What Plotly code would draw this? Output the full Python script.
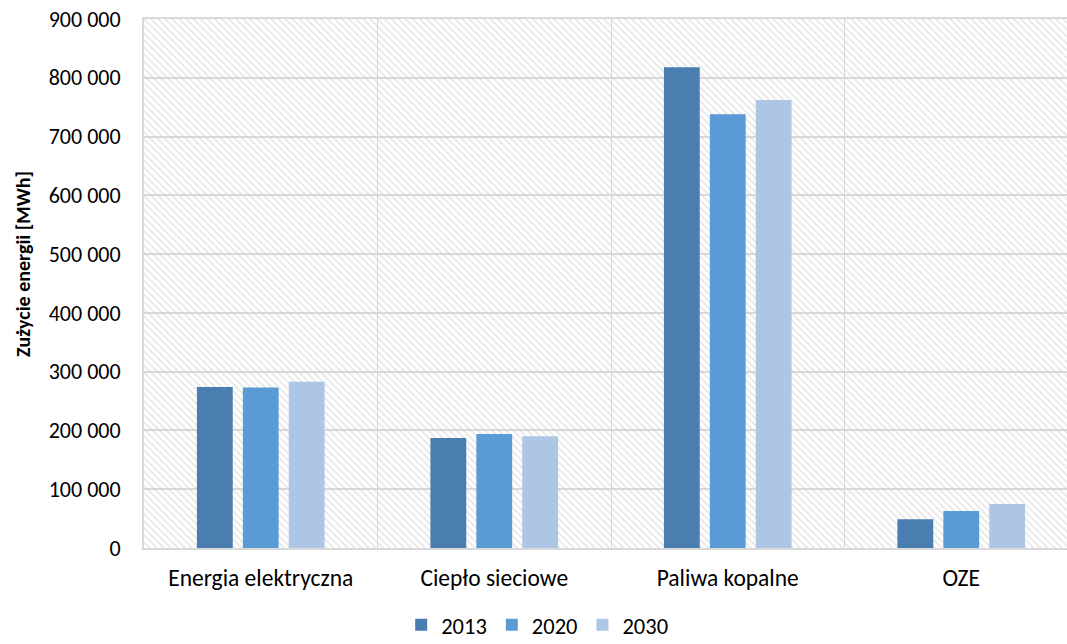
import plotly.graph_objects as go

# chart data
categories = ["Energia elektryczna", "Ciepło sieciowe", "Paliwa kopalne", "OZE"]
years = ["2013", "2020", "2030"]
values_2013 = [274000, 187000, 818000, 49000]
values_2020 = [273000, 194000, 738000, 63000]
values_2030 = [283000, 190000, 762000, 75000]
y_ticks = [0, 100000, 200000, 300000, 400000, 500000, 600000, 700000, 800000, 900000]

colors = ["#4A7EB0", "#5B9BD5", "#ADC6E5"]
font_family = "Calibri, Carlito, Lato, sans-serif"
grid_col = "#D9D9D9"

# plot area is cut off at the right edge in the original
x_visible = (1067 - 144) / 233.5

fig = go.Figure()

# hatched background of the plot area
fig.add_trace(go.Bar(
    x=[len(categories) / 2], y=[y_ticks[-1]], width=[len(categories)],
    xaxis="x", yaxis="y",
    marker=dict(color="rgba(0,0,0,0)", line=dict(width=0),
                pattern=dict(shape="\\", fgcolor="#D2D2D2", size=5, solidity=0.4,
                             fillmode="overlay")),
    showlegend=False, hoverinfo="skip",
))

for year, vals, col in zip(years, [values_2013, values_2020, values_2030], colors):
    fig.add_trace(go.Bar(
        x=categories, y=vals, name=year, xaxis="x2", yaxis="y2",
        marker=dict(color=col, line=dict(width=0)),
    ))

fig.update_layout(
    width=1067, height=644,
    margin=dict(l=144, r=0, t=19, b=96, autoexpand=False),
    paper_bgcolor="white", plot_bgcolor="white",
    separators=", ",
    font=dict(family=font_family, size=22, color="#000000"),
    barmode="group", bargap=0.41, bargroupgap=0.22,
    xaxis=dict(range=[0, x_visible], tick0=0, dtick=1, showgrid=True, gridcolor=grid_col,
               gridwidth=1, showticklabels=False, ticks="", zeroline=False,
               showline=True, linecolor=grid_col, linewidth=2, mirror=True),
    yaxis=dict(range=[0, y_ticks[-1]], tickvals=y_ticks, tickformat=",d",
               showgrid=True, gridcolor=grid_col, gridwidth=2, zeroline=False,
               showline=True, linecolor=grid_col, linewidth=2, ticks="",
               ticklabelstandoff=17, tickfont=dict(size=22)),
    xaxis2=dict(overlaying="x", anchor="y2", side="bottom", type="category",
                range=[-0.5, x_visible - 0.5], showgrid=False, zeroline=False,
                showline=False, ticks="", ticklabelstandoff=13, tickfont=dict(size=23.5)),
    yaxis2=dict(overlaying="y", range=[0, y_ticks[-1]], visible=False),
    legend=dict(orientation="h", x=0.426, xanchor="center", y=-0.146, yanchor="middle",
                font=dict(size=22.5), itemwidth=30, traceorder="normal"),
    annotations=[dict(text="<b>Zużycie energii [MWh]</b>", textangle=-90,
                      xref="paper", yref="paper", x=-0.131, y=0.537,
                      xanchor="center", yanchor="middle", showarrow=False,
                      font=dict(size=20))],
)

# drop the default 8px page margin so the figure fills the window exactly
fig.write_html("out.html", config={"displayModeBar": False},
               post_script="document.body.style.margin='0';document.body.style.overflow='hidden';")
